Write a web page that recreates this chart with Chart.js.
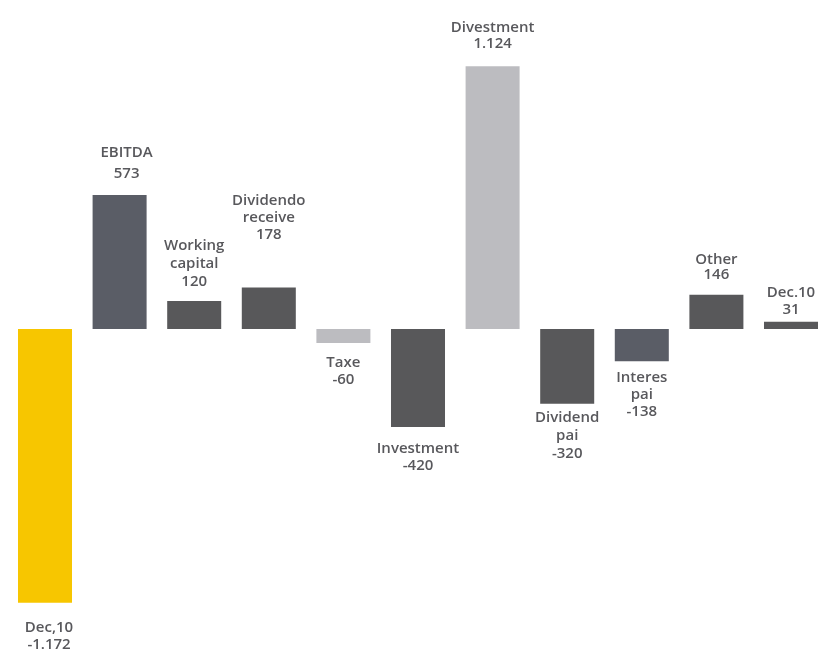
<!DOCTYPE html>
<html>
<head>
<meta charset="utf-8">
<script src="https://cdn.jsdelivr.net/npm/chart.js@4"></script>
<style>
  html, body { margin: 0; padding: 0; background: #fff; overflow: hidden; }
  #wrap { width: 830px; height: 654px; }
</style>
</head>
<body>
<div id="wrap"><canvas id="flowChart" width="830" height="654"></canvas></div>
<script>
// categories (label lines) and values
const labels = [
  ['Dec,10'], ['EBITDA'], ['Working', 'capital'], ['Dividendo', 'receive'], ['Taxe'],
  ['Investment'], ['Divestment'], ['Dividend', 'pai'], ['Interes', 'pai'], ['Other'], ['Dec.10']
];
const valueText = ['-1.172', '573', '120', '178', '-60', '-420', '1.124', '-320', '-138', '146', '31'];
const values = [-1172, 573, 120, 178, -60, -420, 1124, -320, -138, 146, 31];

const colors = {
  yellow: '#f7c600',
  slate:  '#5a5d66',
  dark:   '#58585a',
  light:  '#bcbcc0'
};
const barColors = [
  colors.yellow, colors.slate, colors.dark, colors.dark, colors.light,
  colors.dark, colors.light, colors.dark, colors.slate, colors.dark, colors.dark
];

// label placement tweaks (px)
const labelGap = [25, 21, 19, 53, 20, 22, 23, 14, 17, 20, 12];
const lineH    = [17, 21, 18, 17, 17, 17, 16, 18, 17, 15, 17];
const labelDx  = [4, 7, 0, 0, 0, 0, 0, 0, 0, 0, 0];

const barLabels = {
  id: 'barLabels',
  afterDatasetsDraw(chart) {
    const ctx = chart.ctx;
    const meta = chart.getDatasetMeta(0);
    ctx.save();
    ctx.font = '600 15px "Open Sans", sans-serif';
    ctx.fillStyle = '#58585c';
    ctx.textAlign = 'center';
    ctx.textBaseline = 'middle';
    meta.data.forEach((bar, i) => {
      const lines = labels[i].concat([valueText[i]]);
      const x = bar.x + labelDx[i];
      const lh = lineH[i];
      if (values[i] >= 0) {
        const last = bar.y - labelGap[i];
        lines.forEach((t, k) => {
          ctx.fillText(t, x, last - (lines.length - 1 - k) * lh);
        });
      } else {
        const first = bar.y + labelGap[i];
        lines.forEach((t, k) => {
          ctx.fillText(t, x, first + k * lh);
        });
      }
    });
    ctx.restore();
  }
};

new Chart(document.getElementById('flowChart'), {
  type: 'bar',
  data: {
    labels: labels.map(l => l.join(' ')),
    datasets: [{
      data: values,
      backgroundColor: barColors,
      borderWidth: 0,
      categoryPercentage: 1,
      barPercentage: 0.724
    }]
  },
  options: {
    responsive: false,
    animation: false,
    layout: { padding: { left: 7.7, right: 1.7, top: 0, bottom: 0 } },
    plugins: {
      legend: { display: false },
      tooltip: { enabled: false }
    },
    scales: {
      x: { display: false, grid: { display: false } },
      y: { display: false, min: -1391, max: 1408, grid: { display: false } }
    }
  },
  plugins: [barLabels]
});
</script>
</body>
</html>
